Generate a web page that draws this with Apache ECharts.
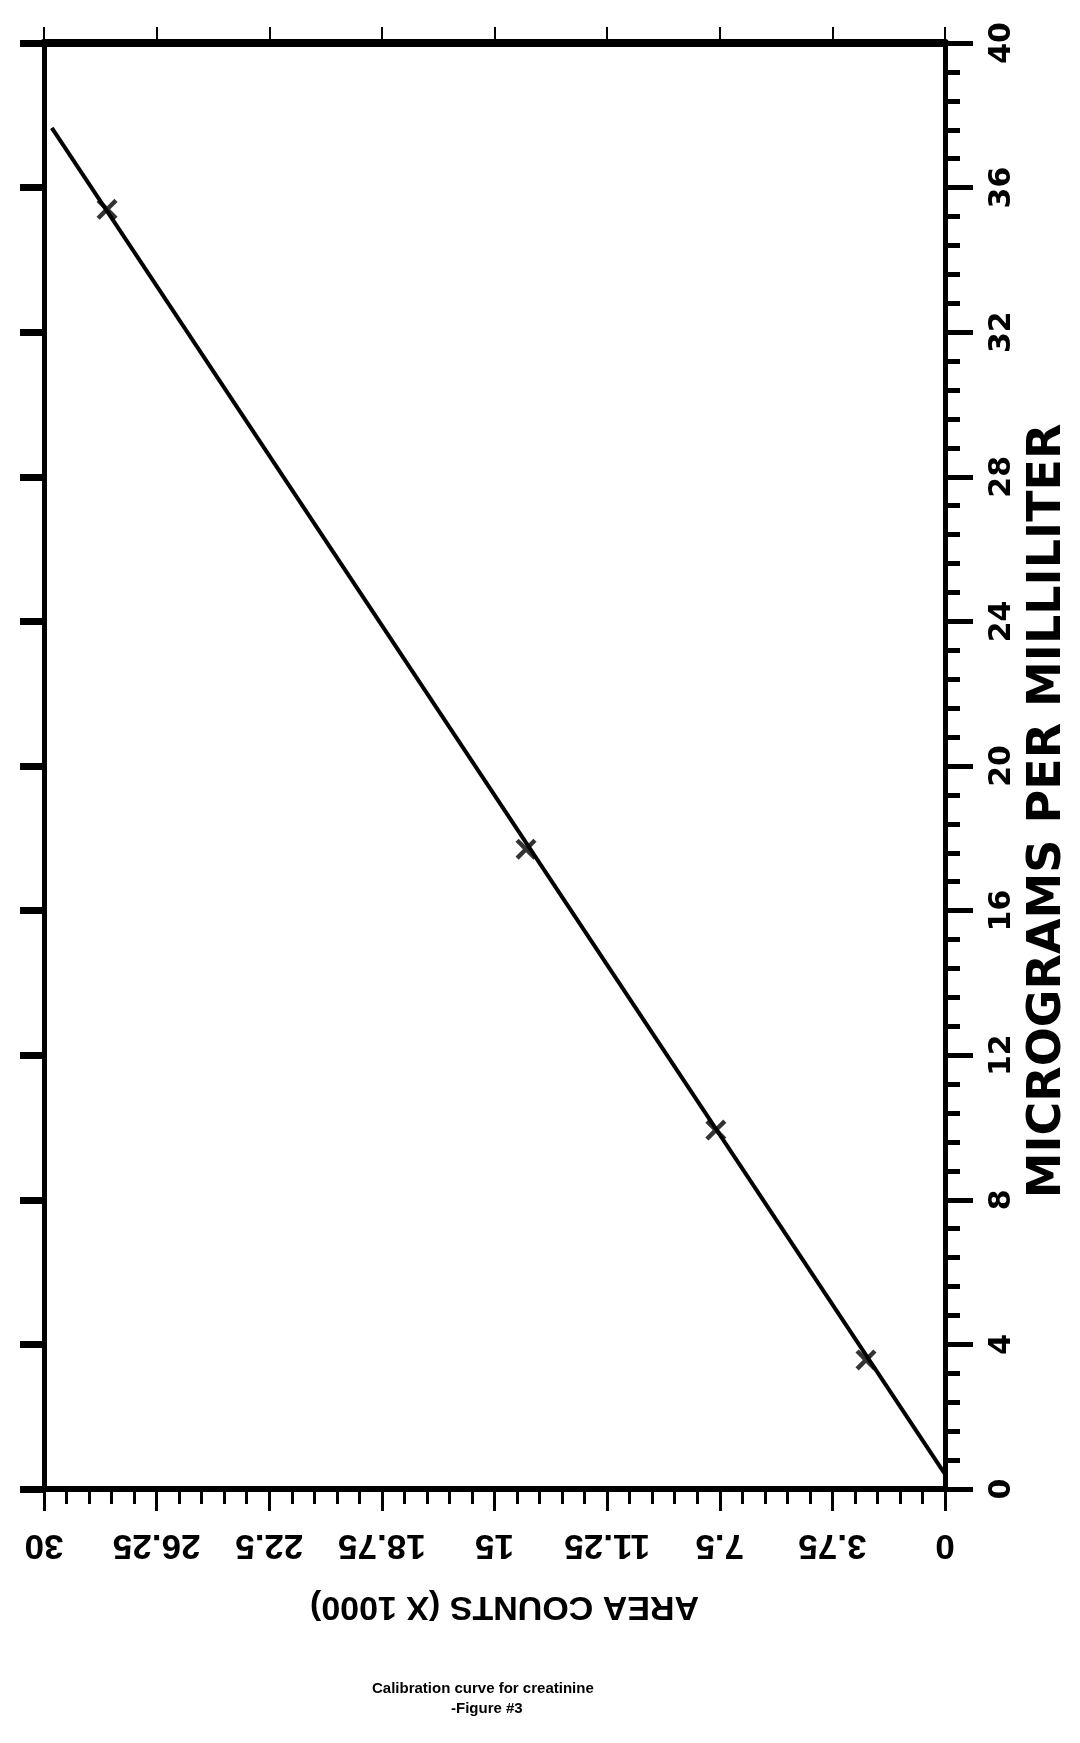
<!DOCTYPE html>
<html><head><meta charset="utf-8">
<script src="https://cdn.jsdelivr.net/npm/echarts@6/dist/echarts.min.js"></script>
<style>html,body{margin:0;padding:0;background:#fff}#c{width:1080px;height:1743px}</style>
</head><body><div id="c"></div>
<script>
// ---- data ----
const areaTicks = [0, 3.75, 7.5, 11.25, 15, 18.75, 22.5, 26.25, 30];   // AREA COUNTS (X 1000)
const ugTicks = [0, 4, 8, 12, 16, 20, 24, 28, 32, 36, 40];            // MICROGRAMS PER MILLILITER
const pointArea = [2.63, 7.63, 13.95, 27.9];
const pointUg = [3.57, 9.93, 17.7, 35.4];
const fitArea = [0, 29.74];
const fitUg = [0.41, 37.65];
const xTitle = 'AREA COUNTS (X 1000)';
const yTitle = 'MICROGRAMS PER MILLILITER';
const captionLines = ['Calibration curve for creatinine', '-Figure #3'];

const narrow = "'Liberation Sans',Arial,sans-serif";
const wide = "'DejaVu Sans','Liberation Sans',sans-serif";
const X_PATH = 'path://M0,3L3,0L10,7L17,0L20,3L13,10L20,17L17,20L10,13L3,20L0,17L7,10Z';

const chart = echarts.init(document.getElementById('c'), null, {renderer: 'canvas'});
const xMin = areaTicks[0], xMax = areaTicks[areaTicks.length - 1], xInt = areaTicks[1] - areaTicks[0];
const yMin = ugTicks[0], yMax = ugTicks[ugTicks.length - 1], yInt = ugTicks[1] - ugTicks[0];

chart.setOption({
  backgroundColor: '#ffffff',
  animation: false,
  title: [
    {text: captionLines[0], left: 367, top: 1676,
     textStyle: {fontFamily: 'Liberation Sans, Arial, sans-serif', fontWeight: 900, fontSize: 15, color: '#000'}},
    {text: captionLines[1], left: 446, top: 1696,
     textStyle: {fontFamily: 'Liberation Sans, Arial, sans-serif', fontWeight: 900, fontSize: 15, color: '#000'}}
  ],
  grid: {left: 44, right: 135, top: 43, bottom: 254, containLabel: false},
  xAxis: [
    {
      type: 'value', position: 'bottom', inverse: true,
      min: xMin, max: xMax, interval: xInt,
      name: xTitle, nameLocation: 'middle', nameGap: 100, nameRotate: 180,
      nameTextStyle: {fontFamily: narrow, fontWeight: 'bold', fontSize: 34, color: '#000', padding: [0, 20, 0, 0]},
      axisLine: {show: true, onZero: false, lineStyle: {color: '#000', width: 6}},
      axisTick: {show: true, inside: false, length: 22, lineStyle: {color: '#000', width: 3}},
      minorTick: {show: true, splitNumber: 5, length: 15, lineStyle: {color: '#000', width: 3}},
      axisLabel: {show: true, rotate: 180, margin: 38, fontFamily: narrow, fontWeight: 'bold', fontSize: 35, color: '#000'},
      splitLine: {show: false}
    },
    {
      type: 'value', position: 'top', inverse: true,
      min: xMin, max: xMax, interval: xInt,
      axisLine: {show: true, onZero: false, lineStyle: {color: '#000', width: 8}},
      axisTick: {show: true, inside: false, length: 16, lineStyle: {color: '#000', width: 2}},
      axisLabel: {show: false},
      splitLine: {show: false}
    }
  ],
  yAxis: [
    {
      type: 'value', position: 'right',
      min: yMin, max: yMax, interval: yInt,
      name: yTitle, nameLocation: 'middle', nameGap: 68, nameRotate: 90,
      nameTextStyle: {fontFamily: wide, fontWeight: 'bold', fontSize: 46, color: '#000', padding: [0, 90, 0, 0]},
      axisLine: {show: true, onZero: false, lineStyle: {color: '#000', width: 5}},
      axisTick: {show: true, inside: false, length: 28, lineStyle: {color: '#000', width: 5}},
      minorTick: {show: true, splitNumber: 5, length: 15, lineStyle: {color: '#000', width: 5}},
      axisLabel: {show: true, rotate: 90, margin: 42, fontFamily: wide, fontWeight: 'bold', fontSize: 30, color: '#000'},
      splitLine: {show: false}
    },
    {
      type: 'value', position: 'left',
      min: yMin, max: yMax, interval: yInt,
      axisLine: {show: true, onZero: false, lineStyle: {color: '#000', width: 5}},
      axisTick: {show: true, inside: false, length: 24, lineStyle: {color: '#000', width: 7}},
      axisLabel: {show: false},
      splitLine: {show: false}
    }
  ],
  series: [
    {
      type: 'line', xAxisIndex: 0, yAxisIndex: 0,
      data: fitArea.map((a, i) => [a, fitUg[i]]),
      showSymbol: false, symbol: 'none',
      lineStyle: {color: '#000', width: 4},
      z: 2
    },
    {
      type: 'scatter', xAxisIndex: 0, yAxisIndex: 0,
      data: pointArea.map((a, i) => [a, pointUg[i]]),
      symbol: X_PATH, symbolSize: 21,
      itemStyle: {color: '#000'},
      z: 3
    }
  ]
});
</script>
</body></html>
